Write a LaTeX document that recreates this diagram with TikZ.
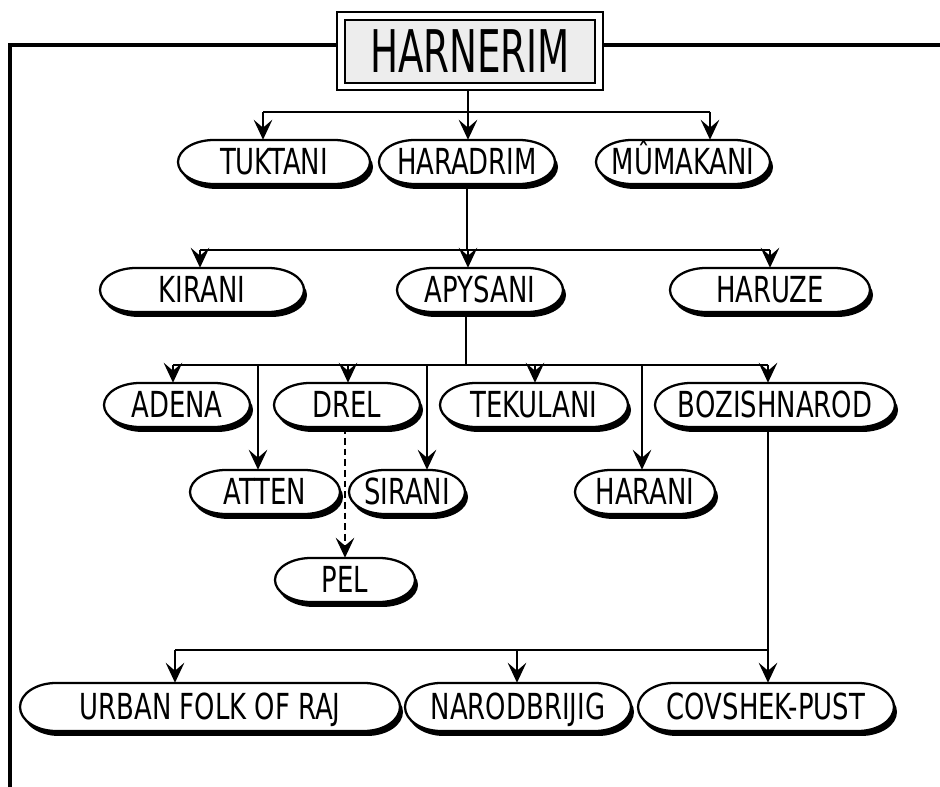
\documentclass[tikz,border=0pt]{standalone}
\usepackage{fontspec}
\setmainfont{DejaVu Sans Condensed}
\usetikzlibrary{arrows.meta}
\newcommand{\lblfont}{\fontsize{24}{26}\selectfont}
\def\pr{36}
\tikzset{
  pillline/.style={draw=black, fill=white, line width=1.7pt},
  pillshadow/.style={fill=black},
  pilltext/.style={inner sep=0pt, font=\lblfont, text height=19.5pt, text depth=0pt},
  conn/.style={line width=1.1pt},
  arr/.style={conn, -{Stealth[length=15pt,width=14pt,inset=6pt]}},
  dasharr/.style={arr, dash pattern=on 5pt off 3pt},
  framel/.style={line width=2.4pt},
  titleout/.style={draw, line width=2.2pt, fill=white, minimum width=199.5pt, minimum height=58.5pt},
  titlein/.style={draw, line width=1.4pt, fill=gray!14, minimum width=187.5pt, minimum height=47pt, inner sep=0pt},
}
% \pillnode{name}{cx}{cy}{half width}{half height}{text}
\newcommand{\pillnode}[6]{%
  \fill[pillshadow, shift={(3,5)}] ({#2-#4+\pr},{#3-#5}) -- ({#2+#4-\pr},{#3-#5})
     arc[start angle=-90, end angle=90, x radius=\pr, y radius=#5]
     -- ({#2-#4+\pr},{#3+#5})
     arc[start angle=90, end angle=270, x radius=\pr, y radius=#5] -- cycle;
  \filldraw[pillline] ({#2-#4+\pr},{#3-#5}) -- ({#2+#4-\pr},{#3-#5})
     arc[start angle=-90, end angle=90, x radius=\pr, y radius=#5]
     -- ({#2-#4+\pr},{#3+#5})
     arc[start angle=90, end angle=270, x radius=\pr, y radius=#5] -- cycle;
  \node[pilltext, minimum width={#4*1.5pt}, minimum height={#5*1.5pt}] (#1) at (#2,#3) {\scalebox{0.9}[1.12]{#6}};
}
\begin{document}
\begin{tikzpicture}[x=0.75pt,y=-0.75pt]
\useasboundingbox (0,0) rectangle (940,787);
% title
\node[titleout] (tbox) at (470,51) {};
\node[titlein] (title) at (470,51.5) {\scalebox{0.74}[1.05]{\fontsize{42}{44}\selectfont HARNERIM}};
% frame
\coordinate (fbl) at (10,787);
\coordinate (ftl) at (10,45);
\coordinate (ftr) at (940,45);
\draw[framel] (fbl) -- (ftl) -- (tbox.west |- ftl);
\draw[framel] (tbox.east |- ftr) -- (ftr);
% level 1
\pillnode{tuk}{274}{162}{96}{22}{TUKTANI}
\pillnode{har}{467}{162}{88}{22}{HARADRIM}
\pillnode{mum}{683}{162}{87}{22}{MÛMAKANI}
\coordinate (b1) at (468,112);
\coordinate (b1l) at (263,112);
\coordinate (b1r) at (710,112);
\draw[conn] (tbox.south -| b1) -- (b1);
\draw[conn] (b1l) -- (b1r);
\draw[arr] (b1l) -- (tuk.north -| b1l);
\draw[arr] (b1) -- (har.north -| b1);
\draw[arr] (b1r) -- (mum.north -| b1r);
% level 2
\pillnode{kir}{202}{290}{102}{22}{KIRANI}
\pillnode{apy}{480}{290}{83}{22}{APYSANI}
\pillnode{haru}{770}{290}{100}{22}{HARUZE}
\coordinate (b2) at (467,250);
\coordinate (b2l) at (200,250);
\coordinate (b2r) at (770,250);
\coordinate (b2a) at (468,250);
\draw[conn] (har.south -| b2) -- (b2);
\draw[conn] (b2l) -- (b2r);
\draw[arr] (b2l) -- (kir.north -| b2l);
\draw[arr] (b2a) -- (apy.north -| b2a);
\draw[arr] (b2r) -- (haru.north -| b2r);
% level 3
\pillnode{ade}{177}{405}{73}{22}{ADENA}
\pillnode{dre}{347}{405}{73}{22}{DREL}
\pillnode{tek}{534}{405}{94}{22}{TEKULANI}
\pillnode{boz}{775}{405}{120}{22}{BOZISHNAROD}
\pillnode{att}{265}{492}{75}{22}{ATTEN}
\pillnode{sir}{407}{492}{58}{22}{SIRANI}
\pillnode{hrn}{645}{492}{70}{22}{HARANI}
\pillnode{pel}{345}{580}{70}{22}{PEL}
\coordinate (b3) at (466,365);
\coordinate (b3a) at (173,365);
\coordinate (b3b) at (258,365);
\coordinate (b3c) at (348,365);
\coordinate (b3d) at (427,365);
\coordinate (b3e) at (535,365);
\coordinate (b3f) at (642,365);
\coordinate (b3g) at (768,365);
\draw[conn] (apy.south -| b3) -- (b3);
\draw[conn] (b3a) -- (b3g);
\draw[arr] (b3a) -- (ade.north -| b3a);
\draw[arr] (b3b) -- (att.north -| b3b);
\draw[arr] (b3c) -- (dre.north -| b3c);
\draw[arr] (b3d) -- (sir.north -| b3d);
\draw[arr] (b3e) -- (tek.north -| b3e);
\draw[arr] (b3f) -- (hrn.north -| b3f);
\draw[arr] (b3g) -- (boz.north -| b3g);
\draw[dasharr] (dre.south -| pel.north) -- (pel.north);
% level 4
\pillnode{urb}{210}{707}{190}{24}{URBAN FOLK OF RAJ}
\pillnode{nar}{518}{707}{113}{24}{NARODBRIJIG}
\pillnode{cov}{766}{707}{128}{24}{COVSHEK-PUST}
\coordinate (b4) at (768,650);
\coordinate (b4l) at (175,650);
\coordinate (b4m) at (517,650);
\draw[conn] (boz.south -| b4) -- (b4);
\draw[conn] (b4l) -- (b4);
\draw[arr] (b4l) -- (urb.north -| b4l);
\draw[arr] (b4m) -- (nar.north -| b4m);
\draw[arr] (b4) -- (cov.north -| b4);
\end{tikzpicture}
\end{document}
